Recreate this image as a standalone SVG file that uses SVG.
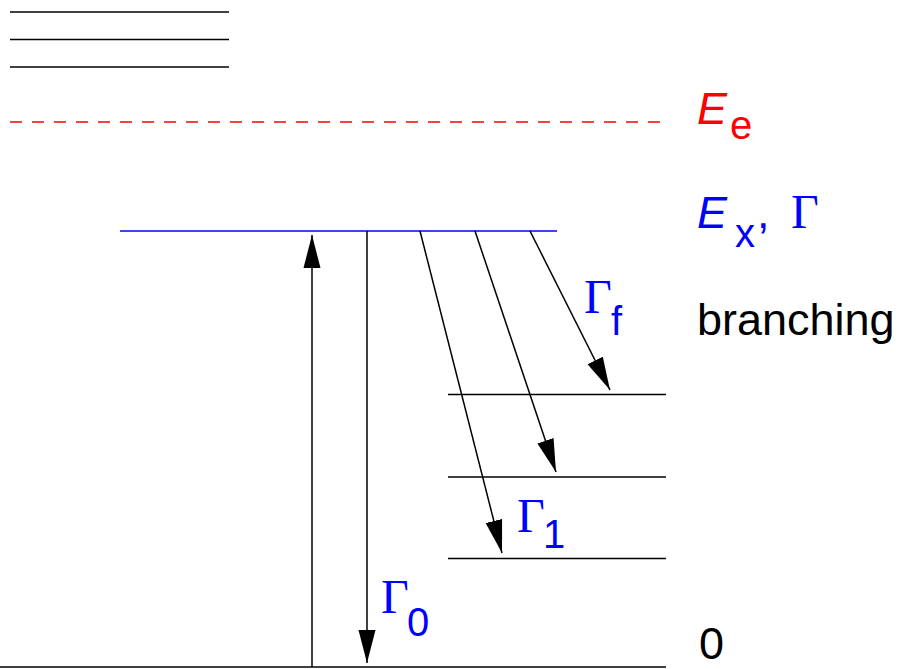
<svg xmlns="http://www.w3.org/2000/svg" width="901" height="669" viewBox="0 0 901 669">
<style>
.lv{stroke:#000;stroke-width:1.6;fill:none}
.ar{stroke:#000;stroke-width:1.5;fill:none;marker-end:url(#ah)}
.sans{font-family:"Liberation Sans",Arial,sans-serif;font-size:45px}
.serif{font-family:"Liberation Serif","Times New Roman",serif;font-size:48px}
.sub{font-family:"Liberation Sans",Arial,sans-serif;font-size:40px}
.blue{fill:#0000ff}
.red{fill:#ff0000}
</style>
<defs>
<marker id="ah" markerUnits="userSpaceOnUse" markerWidth="34" markerHeight="18" viewBox="0 0 34 18" refX="33" refY="9" orient="auto">
<path d="M0,0.5 L33,9 L0,17.5 z" fill="#000"/>
</marker>
</defs>
<rect width="901" height="669" fill="#fff"/>
<g id="upper-levels">
<line class="lv" x1="10" y1="12" x2="229" y2="12"/>
<line class="lv" x1="10" y1="39.5" x2="229" y2="39.5"/>
<line class="lv" x1="10" y1="67" x2="229" y2="67"/>
</g>
<g id="level-Ee">
<line x1="10" y1="122" x2="660" y2="122" stroke="#ff0000" stroke-width="1.5" stroke-dasharray="12 10"/>
<text class="sans red" x="697" y="124" font-style="italic">E</text>
<text class="sub red" x="730" y="139">e</text>
</g>
<g id="level-Ex">
<line x1="120" y1="231" x2="557" y2="231" stroke="#0000ff" stroke-width="1.6"/>
<text class="sans blue" x="697" y="228" font-style="italic">E</text>
<text class="sub blue" x="735" y="247">x</text>
<text class="sans blue" x="757" y="228">,</text>
<text class="serif blue" x="791" y="228">Γ</text>
</g>
<g id="level-1">
<line class="lv" x1="448" y1="394.5" x2="666" y2="394.5"/>
</g>
<g id="level-2">
<line class="lv" x1="448" y1="477" x2="666" y2="477"/>
</g>
<g id="level-3">
<line class="lv" x1="448" y1="558.5" x2="666" y2="558.5"/>
</g>
<g id="level-0">
<line class="lv" x1="0" y1="667" x2="666" y2="667"/>
<text class="sans" x="699" y="659">0</text>
</g>
<g id="label-branching">
<text class="sans" x="697" y="335">branching</text>
</g>
<g id="connectors">
<line class="ar" x1="312" y1="667" x2="312" y2="235"/>
<line class="ar" x1="367" y1="231" x2="367" y2="663"/>
<line class="ar" x1="420" y1="231" x2="502" y2="553"/>
<line class="ar" x1="475" y1="231" x2="556" y2="472"/>
<line class="ar" x1="530" y1="231" x2="610" y2="390"/>
</g>
<g id="labels-gamma">
<text class="serif blue" x="584" y="313">Γ</text>
<text class="sub blue" x="611" y="335">f</text>
<text class="serif blue" x="517" y="532">Γ</text>
<text class="sub blue" x="543" y="548">1</text>
<text class="serif blue" x="381" y="613">Γ</text>
<text class="sub blue" x="407" y="636">0</text>
</g>
</svg>
